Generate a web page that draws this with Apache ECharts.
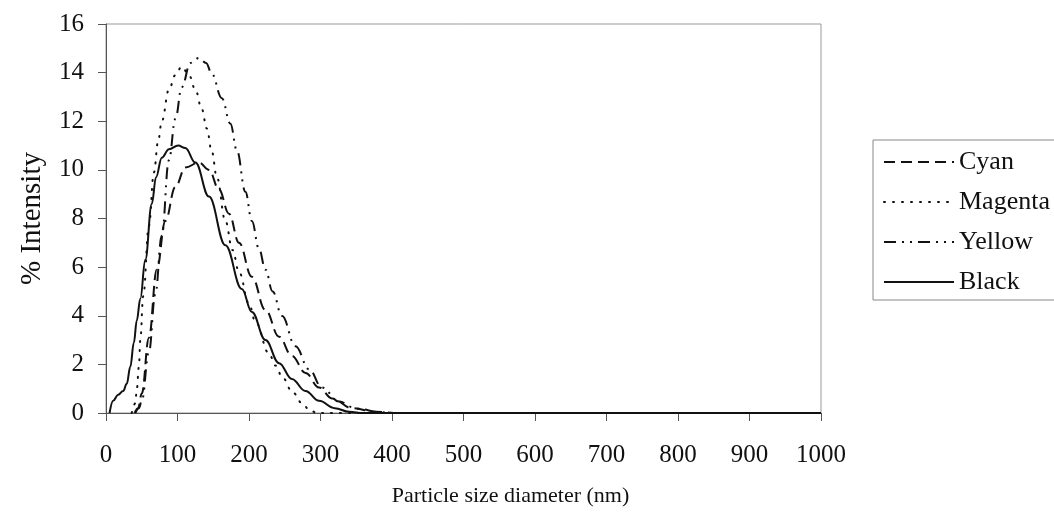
<!DOCTYPE html>
<html>
<head>
<meta charset="utf-8">
<title>Particle size distribution</title>
<script src="https://cdn.jsdelivr.net/npm/echarts@6/dist/echarts.min.js"></script>
<style>
	html, body { margin: 0; padding: 0; background: #fff; }
	#chart { width: 1054px; height: 517px; }
</style>
</head>
<body>
<div id="chart"></div>
<script>
// values: x = diameter (nm), y = % intensity
var cyanX = [40, 45, 50, 60, 71, 83, 97, 111, 130, 144, 158, 172, 186, 204, 223, 242, 260, 279, 298, 316, 344, 377, 410, 1000];
var cyanY = [0, 0.2, 0.8, 3.1, 5.9, 7.9, 9.3, 10.1, 10.3, 10.0, 9.2, 8.2, 7.0, 5.6, 4.24, 3.14, 2.35, 1.65, 1.05, 0.6, 0.2, 0.05, 0, 0];

var magentaX = [36, 41, 43, 46, 48, 52, 60, 67, 73, 78, 88, 97, 106, 116, 125, 134, 141, 148, 155, 167, 177, 186, 200, 209, 228, 237, 247, 261, 275, 284, 295, 1000];
var magentaY = [0, 0.4, 0.95, 1.9, 3.0, 4.8, 7.7, 9.9, 11.2, 12.0, 13.3, 13.9, 14.25, 13.9, 13.3, 12.5, 11.7, 10.75, 9.7, 7.9, 6.7, 5.8, 4.5, 3.75, 2.45, 1.95, 1.45, 0.85, 0.38, 0.14, 0, 0];

var yellowX = [41, 46, 50, 60, 69, 78, 88, 97, 106, 118, 130, 140, 148, 162, 174, 183, 195, 204, 214, 223, 233, 246, 265, 284, 302, 326, 350, 385, 400, 1000];
var yellowY = [0, 0.2, 0.5, 2.5, 4.9, 7.3, 10.4, 12.1, 13.4, 14.4, 14.6, 14.4, 13.95, 12.95, 11.9, 10.8, 9.1, 7.9, 6.75, 5.9, 5.0, 4.0, 2.75, 1.8, 1.05, 0.47, 0.18, 0.03, 0, 0];

var blackX = [5, 10, 17, 24, 29, 34, 39, 43, 48, 55, 64, 70, 78, 88, 101, 111, 125, 144, 167, 190, 204, 223, 242, 260, 279, 298, 320, 340, 360, 1000];
var blackY = [0, 0.5, 0.75, 0.9, 1.2, 1.9, 2.9, 3.8, 4.7, 6.3, 8.6, 9.7, 10.5, 10.85, 11.0, 10.9, 10.3, 8.9, 6.9, 5.1, 4.15, 3.0, 2.05, 1.4, 0.9, 0.5, 0.2, 0.05, 0, 0];

var xTicks = [0, 100, 200, 300, 400, 500, 600, 700, 800, 900, 1000];
var yTicks = [0, 2, 4, 6, 8, 10, 12, 14, 16];

function pairs(xs, ys) {
	var out = [];
	for (var i = 0; i < xs.length; i++) out.push([xs[i], ys[i]]);
	return out;
}

function curve(name, xs, ys, dash, cap) {
	return {
		name: name,
		type: 'line',
		data: pairs(xs, ys),
		symbol: 'none',
		smooth: 0.4,
		smoothMonotone: 'x',
		itemStyle: { color: '#111' },
		lineStyle: {
			color: '#111',
			width: 2,
			type: dash,
			cap: cap || 'butt'
		}
	};
}

var font = 'Liberation Serif';
var myChart = echarts.init(document.getElementById('chart'));
var option = {
	animation: false,
	backgroundColor: '#fff',
	grid: {
		left: 106,
		right: 233,
		top: 24,
		bottom: 104,
		show: true,
		borderColor: '#999',
		borderWidth: 1
	},
	legend: {
		orient: 'vertical',
		left: 873,
		top: 140,
		padding: [9, 6, 5, 10],
		itemGap: 14,
		itemWidth: 70,
		itemHeight: 14,
		borderColor: '#888',
		borderWidth: 1,
		itemStyle: { opacity: 0 },
		textStyle: { fontFamily: font, fontSize: 26, color: '#111' },
		data: ['Cyan', 'Magenta', 'Yellow', 'Black']
	},
	xAxis: {
		type: 'value',
		min: xTicks[0],
		max: xTicks[xTicks.length - 1],
		interval: 100,
		name: 'Particle size diameter (nm)',
		nameLocation: 'middle',
		nameGap: 72,
		nameTextStyle: { fontFamily: font, fontSize: 22, color: '#111', padding: [0, 0, 0, 94] },
		axisLine: { lineStyle: { color: '#555', width: 1 } },
		axisTick: { length: 8, lineStyle: { color: '#555' } },
		axisLabel: {
			margin: 30,
			fontFamily: font,
			fontSize: 25,
			color: '#111',
			formatter: function(v) { return String(v); }
		},
		splitLine: { show: false }
	},
	yAxis: {
		type: 'value',
		min: yTicks[0],
		max: yTicks[yTicks.length - 1],
		interval: 2,
		name: '% Intensity',
		nameLocation: 'middle',
		nameGap: 59,
		nameTextStyle: { fontFamily: font, fontSize: 29, color: '#111' },
		axisLine: { show: true, lineStyle: { color: '#555', width: 1 } },
		axisTick: { show: true, length: 8, lineStyle: { color: '#555' } },
		axisLabel: { margin: 22, fontFamily: font, fontSize: 25, color: '#111' },
		splitLine: { show: false }
	},
	series: [
		curve('Cyan', cyanX, cyanY, [11, 6]),
		curve('Magenta', magentaX, magentaY, [1, 8], 'round'),
		curve('Yellow', yellowX, yellowY, [12, 6, 2, 6, 2, 6]),
		curve('Black', blackX, blackY, 'solid')
	]
};
myChart.setOption(option);
window.addEventListener('resize', function() {
	myChart.resize();
});
</script>
</body>
</html>
